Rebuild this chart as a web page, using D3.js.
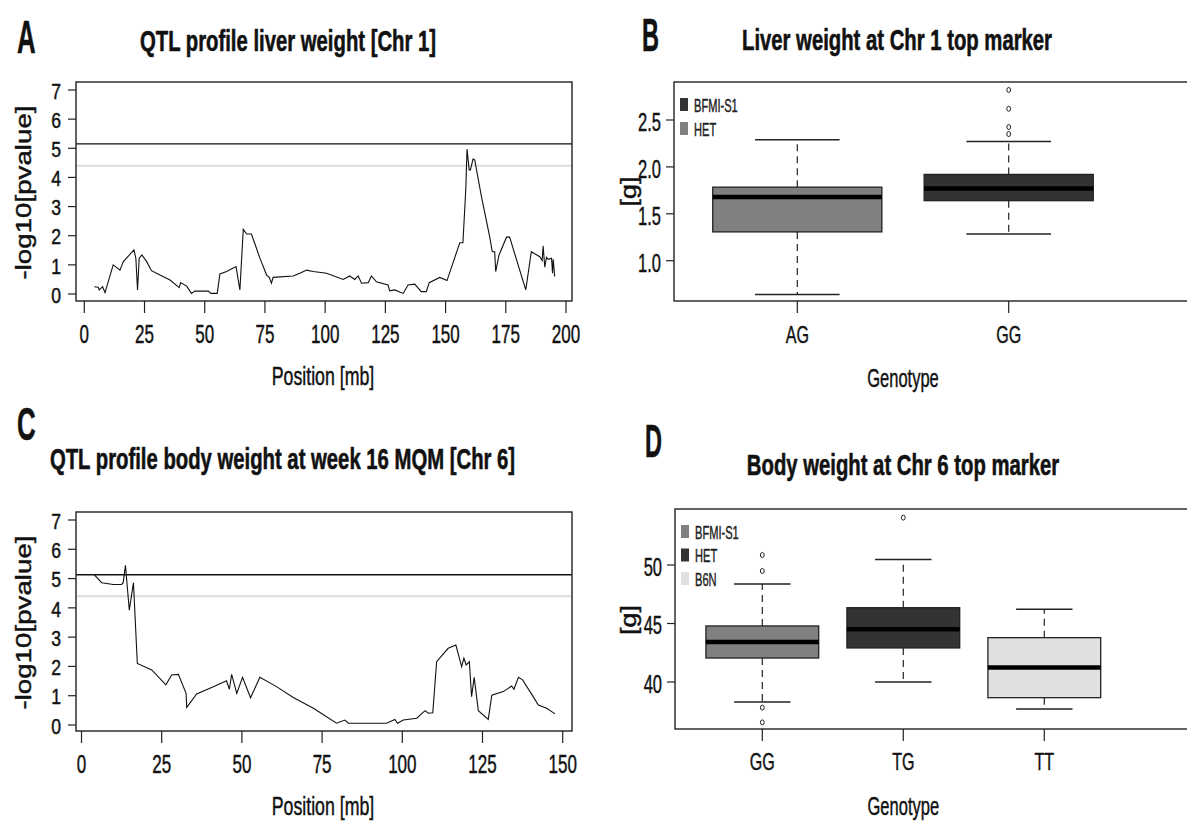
<!DOCTYPE html>
<html>
<head>
<meta charset="utf-8">
<script src="https://cdn.jsdelivr.net/npm/d3@7"></script>
<style>
  html, body { margin: 0; padding: 0; background: #fff; }
  svg { display: block; font-family: "Liberation Sans", Arial, sans-serif; }
</style>
</head>
<body>
<svg id="fig" width="1187" height="821"></svg>
<script>
// ---- Chr 1 QTL profile: liver weight ----
const chr1Pos = [4.2, 5.8, 6.2, 7.6, 8.6, 12.0, 14.8, 16.2, 20.6, 21.4, 22.1, 22.8, 23.9, 25.9, 27.9, 31.4, 35.6, 39.4, 40.0, 42.5, 44.5, 45.9, 51.5, 52.6, 55.2, 56.3, 59.1, 63.0, 64.6, 66.0, 67.4, 69.4, 72.9, 75.7, 76.8, 77.7, 78.4, 86.7, 89.5, 92.3, 95.0, 100.6, 107.5, 110.2, 112.3, 113.7, 115.1, 117.9, 119.2, 121.3, 126.1, 126.8, 128.9, 132.4, 134.4, 137.2, 139.9, 142.0, 143.2, 147.6, 150.6, 155.9, 157.2, 158.4, 158.9, 159.8, 160.3, 161.4, 162.1, 164.9, 168.3, 169.4, 170.4, 170.8, 172.2, 175.3, 176.6, 183.3, 185.6, 189.1, 190.1, 190.5, 191.2, 191.9, 192.6, 194.0, 194.4, 194.7, 195.3];
const chr1Lod = [0.25, 0.23, 0.14, 0.25, 0.05, 1.00, 0.82, 1.11, 1.51, 1.23, 0.14, 1.23, 1.34, 1.11, 0.80, 0.65, 0.48, 0.22, 0.39, 0.27, 0.02, 0.10, 0.10, 0.02, 0.02, 0.69, 0.77, 0.94, 0.14, 2.22, 2.06, 2.06, 1.23, 0.65, 0.57, 0.37, 0.57, 0.62, 0.71, 0.82, 0.77, 0.71, 0.50, 0.62, 0.50, 0.62, 0.37, 0.39, 0.62, 0.42, 0.31, 0.11, 0.14, 0.02, 0.31, 0.34, 0.08, 0.08, 0.39, 0.57, 0.46, 1.76, 1.76, 3.60, 4.97, 4.26, 4.26, 4.63, 4.60, 3.34, 1.97, 1.45, 1.45, 0.77, 1.34, 1.95, 1.95, 0.14, 1.45, 1.28, 1.15, 1.65, 0.92, 1.26, 1.19, 1.23, 0.71, 1.19, 0.60];
const chr1Thresholds = [5.15, 4.4];

// ---- Chr 6 QTL profile: body weight week 16 (MQM) ----
const chr6Pos = [4.0, 6.3, 9.9, 12.5, 13.0, 13.7, 14.9, 16.2, 17.4, 21.9, 26.3, 28.1, 30.2, 32.6, 32.8, 35.9, 41.1, 45.2, 46.1, 46.8, 48.4, 50.2, 52.7, 55.6, 60.8, 66.0, 72.3, 79.5, 82.1, 83.2, 95.1, 97.7, 98.5, 100.3, 104.5, 107.1, 108.1, 109.5, 110.7, 114.3, 116.7, 118.5, 119.2, 119.9, 120.9, 121.6, 122.4, 123.7, 126.8, 127.9, 131.5, 134.1, 134.8, 136.2, 137.5, 140.8, 142.4, 145.0, 147.6];
const chr6Lod = [5.13, 4.86, 4.80, 4.80, 4.86, 5.45, 3.92, 4.86, 2.10, 1.88, 1.37, 1.71, 1.73, 1.08, 0.60, 1.06, 1.31, 1.51, 1.22, 1.73, 1.08, 1.63, 0.93, 1.63, 1.31, 0.94, 0.57, 0.06, 0.17, 0.06, 0.06, 0.19, 0.06, 0.17, 0.23, 0.49, 0.40, 0.42, 2.16, 2.62, 2.73, 1.99, 2.28, 2.05, 2.16, 0.97, 1.63, 0.49, 0.19, 1.02, 1.14, 1.33, 1.22, 1.63, 1.54, 0.97, 0.68, 0.57, 0.38];
const chr6Thresholds = [5.13, 4.4];

const lodTicks = [0, 1, 2, 3, 4, 5, 6, 7];
const chr1PosTicks = [0, 25, 50, 75, 100, 125, 150, 175, 200];
const chr6PosTicks = [0, 25, 50, 75, 100, 125, 150];

// ---- Liver weight by genotype at the Chr 1 top marker ----
const liverGenotypes = ["AG", "GG"];
const liverGroup = ["HET", "BFMI-S1"];
const liverLowWhisker = [0.64, 1.285];
const liverQ1 = [1.307, 1.64];
const liverMedian = [1.68, 1.77];
const liverQ3 = [1.784, 1.92];
const liverHighWhisker = [2.29, 2.27];
const liverOutliers = [[], [2.82, 2.62, 2.425, 2.35]];
const liverTicks = [1.0, 1.5, 2.0, 2.5];
const liverLegend = ["BFMI-S1", "HET"];

// ---- Body weight by genotype at the Chr 6 top marker ----
const bodyGenotypes = ["GG", "TG", "TT"];
const bodyGroup = ["BFMI-S1", "HET", "B6N"];
const bodyLowWhisker = [38.29, 40.0, 37.69];
const bodyQ1 = [42.05, 42.91, 38.66];
const bodyMedian = [43.42, 44.50, 41.23];
const bodyQ3 = [44.79, 46.35, 43.79];
const bodyHighWhisker = [48.38, 50.48, 46.21];
const bodyOutliers = [[50.85, 49.49, 37.81, 36.55], [54.05], []];
const bodyTicks = [40, 45, 50];
const bodyLegend = ["BFMI-S1", "HET", "B6N"];

const groupColor = { "BFMI-S1": "#333333", "HET": "#808080", "B6N": "#e0e0e0" };
const bodyGroupColor = { "BFMI-S1": "#808080", "HET": "#333333", "B6N": "#e0e0e0" };

const svg = d3.select("#fig");

// Text helper: glyphs are drawn with a horizontal squeeze so the lettering is tall and narrow.
function label(parent, x, y, str, o = {}) {
  let tf = `translate(${x},${y})`;
  if (o.rotate) tf += ` rotate(${o.rotate})`;
  tf += ` scale(${o.sx ?? 1},${o.sy ?? 1})`;
  const g = parent.append("g").attr("transform", tf);
  const fill = o.fill || "#111";
  g.append("text")
    .attr("text-anchor", o.anchor || "middle")
    .attr("dominant-baseline", o.baseline || "auto")
    .attr("font-size", o.size || 20)
    .attr("font-weight", o.weight || "normal")
    .attr("fill", fill)
    .attr("stroke", fill)
    .attr("stroke-width", o.weight === "bold" ? 0.6 : 0.45)
    .attr("stroke-linejoin", "round")
    .text(str);
  return g;
}

function frame(g, x0, y0, x1, y1) {
  g.append("rect").attr("x", x0).attr("y", y0).attr("width", x1 - x0).attr("height", y1 - y0)
    .attr("fill", "none").attr("stroke", "#222").attr("stroke-width", 1.4);
}

// ---- QTL profile panel ----
function qtlPanel(cfg) {
  const g = svg.append("g");
  const x = d3.scaleLinear().domain([0, cfg.xMax]).range(cfg.xRange);
  const y = d3.scaleLinear().domain([0, 7]).range(cfg.yRange);
  const [L, T, R, B] = cfg.box;

  // threshold lines: upper black, lower light grey
  g.append("line").attr("x1", L).attr("x2", R)
    .attr("y1", y(cfg.thr[1])).attr("y2", y(cfg.thr[1]))
    .attr("stroke", "#dddddd").attr("stroke-width", 2);
  g.append("line").attr("x1", L).attr("x2", R)
    .attr("y1", y(cfg.thr[0])).attr("y2", y(cfg.thr[0]))
    .attr("stroke", "#111").attr("stroke-width", 1.3);

  const line = d3.line().x((d, i) => x(cfg.pos[i])).y(d => y(d));
  g.append("path").datum(cfg.lod).attr("d", line)
    .attr("fill", "none").attr("stroke", "#111").attr("stroke-width", 1.1)
    .attr("stroke-linejoin", "miter");

  frame(g, L, T, R, B);

  // y axis
  cfg.yTicks.forEach(t => {
    g.append("line").attr("x1", L - 8).attr("x2", L).attr("y1", y(t)).attr("y2", y(t))
      .attr("stroke", "#222").attr("stroke-width", 1.2);
    label(g, L - 15, y(t) + 1, String(t), { size: 22, sx: 0.8, anchor: "end", baseline: "central" });
  });
  // x axis
  cfg.xTicks.forEach(t => {
    g.append("line").attr("x1", x(t)).attr("x2", x(t)).attr("y1", B).attr("y2", B + 12)
      .attr("stroke", "#222").attr("stroke-width", 1.2);
    label(g, x(t), B + 42, String(t), { size: 25, sx: 0.68 });
  });

  label(g, (L + R) / 2 - 1, B + 84, "Position [mb]", { size: 25, sx: 0.71 });
  label(g, 23.5, (T + B) / 2 + 1, "-log10[pvalue]", { size: 22, rotate: -90, sx: 1.26, baseline: "central" });
  label(g, cfg.titleX, cfg.titleY, cfg.title, { size: 29, sx: 0.7, weight: "bold" });
  label(g, cfg.letterX, cfg.letterY, cfg.letter, { size: 47, sx: 0.55, weight: "bold", anchor: "start" });
}

// ---- Box plot panel ----
function boxPanel(cfg) {
  const g = svg.append("g");
  const n = cfg.cats.length;
  const x = d3.scalePoint().domain(cfg.cats).range(cfg.catRange);
  const step = n > 1 ? (cfg.catRange[1] - cfg.catRange[0]) / (n - 1) : 100;
  const bw = step * 0.8;
  const y = d3.scaleLinear().domain(cfg.yDomain).range(cfg.yRange);
  const [L, T, R, B] = cfg.box;

  cfg.cats.forEach((c, i) => {
    const cx = x(c);
    const fill = cfg.colors[cfg.group[i]];
    // whiskers (dashed) and staples
    [[cfg.q3[i], cfg.hi[i]], [cfg.q1[i], cfg.lo[i]]].forEach(([a, b]) => {
      g.append("line").attr("x1", cx).attr("x2", cx).attr("y1", y(a)).attr("y2", y(b))
        .attr("stroke", "#222").attr("stroke-width", 1.2).attr("stroke-dasharray", "7,5");
      g.append("line").attr("x1", cx - bw / 4).attr("x2", cx + bw / 4).attr("y1", y(b)).attr("y2", y(b))
        .attr("stroke", "#222").attr("stroke-width", 1.5);
    });
    g.append("rect").attr("x", cx - bw / 2).attr("width", bw)
      .attr("y", y(cfg.q3[i])).attr("height", y(cfg.q1[i]) - y(cfg.q3[i]))
      .attr("fill", fill).attr("stroke", "#222").attr("stroke-width", 1.3);
    g.append("line").attr("x1", cx - bw / 2).attr("x2", cx + bw / 2)
      .attr("y1", y(cfg.med[i])).attr("y2", y(cfg.med[i]))
      .attr("stroke", "#000").attr("stroke-width", 4.5);
    cfg.out[i].forEach(v => {
      g.append("ellipse").attr("cx", cx).attr("cy", y(v)).attr("rx", 1.9).attr("ry", 2.5)
        .attr("fill", "none").attr("stroke", "#222").attr("stroke-width", 1);
    });
    // category tick + label
    g.append("line").attr("x1", cx).attr("x2", cx).attr("y1", B).attr("y2", B + 12)
      .attr("stroke", "#222").attr("stroke-width", 1.2);
    label(g, cx, B + cfg.catLabelDy, c, { size: 24, sx: 0.67 });
  });

  frame(g, L, T, R, B);

  cfg.yTicks.forEach(t => {
    g.append("line").attr("x1", L - 8).attr("x2", L).attr("y1", y(t)).attr("y2", y(t))
      .attr("stroke", "#222").attr("stroke-width", 1.2);
    label(g, L - 13, y(t) + 2, cfg.yFmt(t), { size: 25, sx: 0.66, anchor: "end", baseline: "central" });
  });

  // legend
  cfg.legend.forEach((name, i) => {
    const ly = cfg.legendY + i * cfg.legendStep;
    g.append("rect").attr("x", L + 6).attr("y", ly).attr("width", 8).attr("height", 13)
      .attr("fill", cfg.colors[name]);
    label(g, L + 20, ly + 13.5, name, { size: 18.5, sx: 0.6, anchor: "start", fill: "#222" });
  });

  label(g, (cfg.catRange[0] + cfg.catRange[1]) / 2, B + cfg.genoDy, "Genotype", { size: 25, sx: 0.66 });
  label(g, 628, (T + B) / 2 + cfg.gLabelDy, "[g]", { size: 22, rotate: -90, sx: 1.22, baseline: "central" });
  label(g, cfg.titleX, cfg.titleY, cfg.title, { size: 29, sx: 0.7, weight: "bold" });
  label(g, cfg.letterX, cfg.letterY, cfg.letter, { size: 47, sx: 0.5, weight: "bold", anchor: "start" });
}

qtlPanel({
  pos: chr1Pos, lod: chr1Lod, thr: chr1Thresholds, xMax: 200,
  xRange: [84.3, 566], yRange: [294, 90], box: [76, 82, 572, 301],
  xTicks: chr1PosTicks, yTicks: lodTicks,
  title: "QTL profile liver weight [Chr 1]", titleX: 288, titleY: 51,
  letter: "A", letterX: 17, letterY: 53
});

qtlPanel({
  pos: chr6Pos, lod: chr6Lod, thr: chr6Thresholds, xMax: 150,
  xRange: [81.5, 562.7], yRange: [725, 520], box: [76, 512, 572, 731],
  xTicks: chr6PosTicks, yTicks: lodTicks,
  title: "QTL profile body weight at week 16 MQM [Chr 6]", titleX: 282.5, titleY: 469,
  letter: "C", letterX: 17, letterY: 440
});

boxPanel({
  cats: liverGenotypes, group: liverGroup, colors: groupColor,
  lo: liverLowWhisker, q1: liverQ1, med: liverMedian, q3: liverQ3, hi: liverHighWhisker, out: liverOutliers,
  catRange: [797.3, 1008.7], yDomain: [1, 2.5], yRange: [260.7, 120],
  box: [674, 82, 1195, 301], yTicks: liverTicks, yFmt: d3.format(".1f"),
  legend: liverLegend, legendY: 98, legendStep: 24,
  catLabelDy: 42, genoDy: 86, gLabelDy: 0,
  title: "Liver weight at Chr 1 top marker", titleX: 897, titleY: 50,
  letter: "B", letterX: 642, letterY: 51
});

boxPanel({
  cats: bodyGenotypes, group: bodyGroup, colors: bodyGroupColor,
  lo: bodyLowWhisker, q1: bodyQ1, med: bodyMedian, q3: bodyQ3, hi: bodyHighWhisker, out: bodyOutliers,
  catRange: [762.3, 1044.3], yDomain: [40, 50], yRange: [682, 565],
  box: [675, 509, 1195, 729], yTicks: bodyTicks, yFmt: d3.format("d"),
  legend: bodyLegend, legendY: 525, legendStep: 23.5,
  catLabelDy: 41, genoDy: 86, gLabelDy: 1,
  title: "Body weight at Chr 6 top marker", titleX: 903, titleY: 475,
  letter: "D", letterX: 645, letterY: 457
});
</script>
</body>
</html>
